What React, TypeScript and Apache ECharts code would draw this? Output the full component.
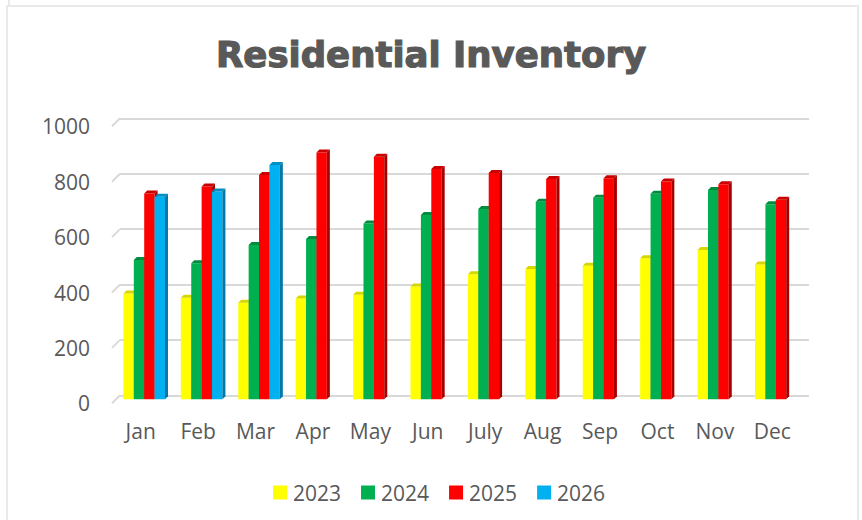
import React, { useEffect, useRef } from "react";
import * as echarts from "echarts";

const months = ["Jan", "Feb", "Mar", "Apr", "May", "Jun", "July", "Aug", "Sep", "Oct", "Nov", "Dec"];
const years = ["2023", "2024", "2025", "2026"];
const v2023 = [382, 367, 349, 364, 377, 407, 451, 470, 482, 509, 539, 487];
const v2024 = [503, 491, 557, 579, 635, 665, 687, 713, 728, 742, 756, 704];
const v2025 = [743, 768, 810, 891, 876, 831, 817, 795, 798, 786, 776, 720];
const v2026 = [731, 750, 846];
const yTicks = [0, 200, 400, 600, 800, 1000];

const seriesValues = [v2023, v2024, v2025, v2026];
const frontColors = ["#ffff00", "#00b050", "#ff0000", "#00b0f0"];
const topColors = ["#d6d600", "#008c3f", "#c80000", "#0090c8"];
const sideColors = ["#b8b800", "#007a36", "#a80000", "#0078a8"];

const FONT = "'Open Sans', sans-serif";
const TEXT = "#595959";
const GRID = "#d9d9d9";

export default function App() {
  const ref = useRef<HTMLDivElement>(null);
  useEffect(() => {
    if (!ref.current) return;
    const chart = echarts.init(ref.current, null, { renderer: "svg" });
    const DX = -4.5;
    const DY = 4;
    const D = 3;
    const makeBarSeries = (k: number) => ({
      type: "custom",
      name: years[k],
      xAxisIndex: 0,
      yAxisIndex: 0,
      itemStyle: { color: frontColors[k] },
      encode: { x: 0, y: 1 },
      data: seriesValues[k].map((v, i) => [i, v]),
      renderItem: (params: any, api: any) => {
        const i = api.value(0);
        const v = api.value(1);
        const top = api.coord([i, v]);
        const base = api.coord([i, 0]);
        const W = api.size([1, 0])[0];
        const bw = W * 0.181;
        const x = top[0] - 2 * bw + k * bw + DX;
        const y = top[1] + DY;
        const y0 = base[1] + DY;
        return {
          type: "group",
          children: [
            { type: "rect", shape: { x, y, width: bw, height: y0 - y }, style: { fill: frontColors[k] } },
            {
              type: "polygon",
              shape: { points: [[x, y], [x + D, y - D], [x + bw + D, y - D], [x + bw, y]] },
              style: { fill: topColors[k] },
            },
            {
              type: "polygon",
              shape: { points: [[x + bw, y], [x + bw + D, y - D], [x + bw + D, y0 - D], [x + bw, y0]] },
              style: { fill: sideColors[k] },
            },
          ],
        };
      },
    });

    chart.setOption({
      animation: false,
      backgroundColor: "#ffffff",
      title: {
        text: "Residential Inventory",
        left: "center",
        top: 31,
        textStyle: {
          fontFamily: "'DejaVu Sans', sans-serif",
          fontWeight: "bold",
          fontSize: 35.5,
          color: TEXT,
          textBorderColor: TEXT,
          textBorderWidth: 1.2,
        },
      },
      legend: {
        left: 268,
        top: 477,
        icon: "rect",
        itemWidth: 14,
        itemHeight: 14,
        itemGap: 20,
        data: years,
        textStyle: { fontFamily: FONT, fontSize: 21, color: TEXT, padding: [0, 0, 0, 1] },
      },
      graphic: [
        {
          type: "rect",
          shape: { x: 7, y: 6, width: 851, height: 530 },
          style: { fill: "none", stroke: "#e9e9e9", lineWidth: 2 },
          silent: true,
        },
        {
          type: "line",
          shape: { x1: 9, y1: 0, x2: 9, y2: 6 },
          style: { stroke: "#e9e9e9", lineWidth: 2 },
          silent: true,
        },
      ],
      grid: [
        { left: 120, right: 53, top: 118.3, bottom: 124.7 },
        { left: 112, right: 61, top: 126.3, bottom: 116.7 },
      ],
      xAxis: [
        {
          type: "category",
          gridIndex: 0,
          data: months,
          axisLine: { show: false },
          axisTick: { show: false },
          axisLabel: { show: false },
        },
        {
          type: "category",
          gridIndex: 1,
          data: months,
          axisLine: { show: false },
          axisTick: { show: false },
          axisLabel: { fontFamily: FONT, fontSize: 21, color: TEXT, margin: 17 },
        },
      ],
      yAxis: [
        {
          type: "value",
          gridIndex: 0,
          min: 0,
          max: 1000,
          interval: 200,
          axisLabel: { show: false },
          axisLine: { show: false },
          axisTick: { show: false },
          splitLine: { lineStyle: { color: GRID, width: 2 } },
        },
        {
          type: "value",
          gridIndex: 1,
          min: 0,
          max: 1000,
          interval: 200,
          axisLabel: {
            fontFamily: FONT,
            fontSize: 21,
            color: TEXT,
            margin: 22,
            formatter: (val: number) => String(val),
          },
          axisLine: { show: false },
          axisTick: { show: false },
          splitLine: { show: false },
        },
      ],
      series: [
        {
          type: "custom",
          name: "floor",
          xAxisIndex: 0,
          yAxisIndex: 0,
          silent: true,
          encode: { x: 0, y: 1 },
          data: yTicks.map((t) => [0, t]),
          renderItem: (params: any, api: any) => {
            const p = api.coord([0, api.value(1)]);
            const cs = params.coordSys;
            return {
              type: "line",
              shape: { x1: cs.x, y1: p[1], x2: cs.x - 8, y2: p[1] + 8 },
              style: { stroke: GRID, lineWidth: 2 },
            };
          },
        },
        makeBarSeries(0),
        makeBarSeries(1),
        makeBarSeries(2),
        makeBarSeries(3),
      ],
    });
    return () => chart.dispose();
  }, []);
  return (
    <div
      ref={ref}
      style={{ position: "fixed", left: 0, top: 0, width: 862, height: 520 }}
    />
  );
}
